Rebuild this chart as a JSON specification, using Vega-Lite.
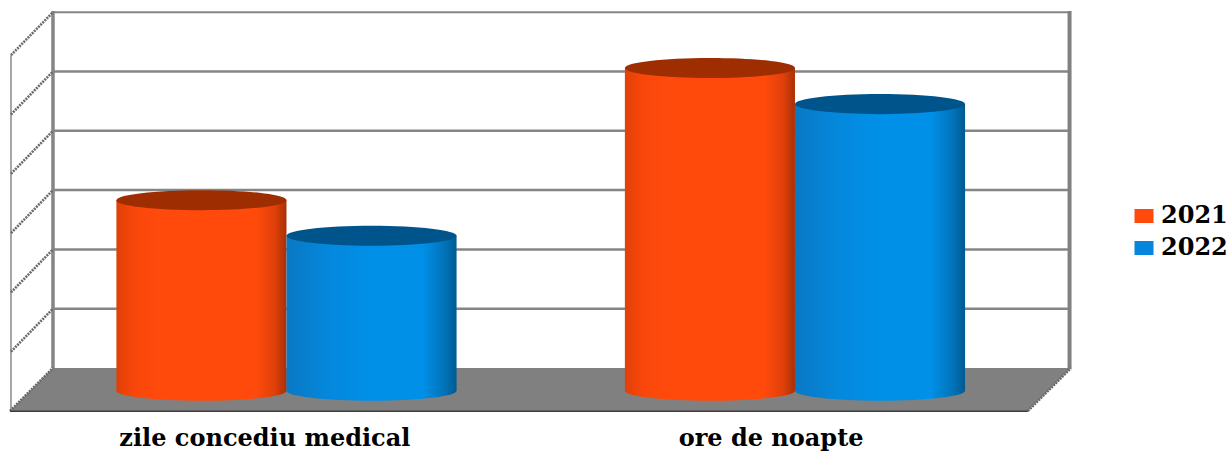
{
"$schema":"https://vega.github.io/schema/vega-lite/v6.json",
"width":1231,"height":453,"padding":0,"autosize":"none","background":"#ffffff",
"config":{"view":{"stroke":null}},
"datasets":{
"cyl":[
{"category":"zile concediu medical","year":"2021","left":0.331,"right":1.0,"center":0.6655,"base":-0.385,"top":2.83},
{"category":"zile concediu medical","year":"2022","left":1.0,"right":1.669,"center":1.3345,"base":-0.385,"top":2.23},
{"category":"ore de noapte","year":"2021","left":2.331,"right":3.0,"center":2.6655,"base":-0.385,"top":5.06},
{"category":"ore de noapte","year":"2022","left":3.0,"right":3.669,"center":3.3345,"base":-0.385,"top":4.45}],
"floor":[
{"x":-0.0875,"back":-0.725,"front":-0.725},
{"x":0.0816,"back":0,"front":-0.725},
{"x":3.916,"back":0,"front":-0.725},
{"x":4.086,"back":0,"front":0}],
"grid":[
{"g":"1","x":0.0816,"y":1},{"g":"1","x":4.074,"y":1},
{"g":"2","x":0.0816,"y":2},{"g":"2","x":4.074,"y":2},
{"g":"3","x":0.0816,"y":3},{"g":"3","x":4.074,"y":3},
{"g":"4","x":0.0816,"y":4},{"g":"4","x":4.074,"y":4},
{"g":"5","x":0.0816,"y":5},{"g":"5","x":4.074,"y":5}],
"slant":[
{"g":"1","x":0.0816,"y":1},{"g":"1","x":-0.0836,"y":0.275},
{"g":"2","x":0.0816,"y":2},{"g":"2","x":-0.0836,"y":1.275},
{"g":"3","x":0.0816,"y":3},{"g":"3","x":-0.0836,"y":2.275},
{"g":"4","x":0.0816,"y":4},{"g":"4","x":-0.0836,"y":3.275},
{"g":"5","x":0.0816,"y":5},{"g":"5","x":-0.0836,"y":4.275},
{"g":"6","x":0.0816,"y":6},{"g":"6","x":-0.0836,"y":5.275},
{"g":"0","x":0.0816,"y":0},{"g":"0","x":-0.0875,"y":-0.725},
{"g":"r","x":4.086,"y":0},{"g":"r","x":3.916,"y":-0.725}],
"labels":[
{"text":"zile concediu medical","x":0.915,"y":-1.2},
{"text":"ore de noapte","x":2.906,"y":-1.2}]
},
"encoding":{
"x":{"type":"quantitative","scale":{"domain":[-0.1268,4.715],"nice":false,"zero":false},"axis":null},
"y":{"type":"quantitative","scale":{"domain":[-1.4334,6.2057],"nice":false,"zero":false},"axis":null}
},
"layer":[
{"data":{"name":"floor"},"mark":{"type":"area","color":"#808080","interpolate":"linear"},
 "encoding":{"x":{"field":"x","type":"quantitative"},"y":{"field":"back","type":"quantitative"},"y2":{"field":"front"}}},
{"data":{"name":"grid"},"mark":{"type":"line","color":"#858585","strokeWidth":2.5},
 "encoding":{"x":{"field":"x","type":"quantitative"},"y":{"field":"y","type":"quantitative"},"detail":{"field":"g"}}},
{"data":{"values":[{"x":0.0816,"y":6},{"x":4.086,"y":6}]},"mark":{"type":"line","color":"#858585","strokeWidth":2},
 "encoding":{"x":{"field":"x","type":"quantitative"},"y":{"field":"y","type":"quantitative"}}},
{"data":{"values":[{"x":0.0816,"y":6.02},{"x":0.0816,"y":0}]},"mark":{"type":"line","color":"#858585","strokeWidth":3.5},
 "encoding":{"x":{"field":"x","type":"quantitative"},"y":{"field":"y","type":"quantitative"}}},
{"data":{"values":[{"x":4.08,"y":6.02},{"x":4.08,"y":0}]},"mark":{"type":"line","color":"#808080","strokeWidth":4},
 "encoding":{"x":{"field":"x","type":"quantitative"},"y":{"field":"y","type":"quantitative"}}},
{"data":{"values":[{"x":-0.0836,"y":5.275},{"x":-0.0836,"y":-0.725}]},"mark":{"type":"line","color":"#8a8a8a","strokeWidth":1.5},
 "encoding":{"x":{"field":"x","type":"quantitative"},"y":{"field":"y","type":"quantitative"}}},
{"data":{"name":"slant"},"mark":{"type":"line","color":"#6a6a6a","strokeWidth":2.6,"strokeDash":[2,1]},
 "encoding":{"x":{"field":"x","type":"quantitative"},"y":{"field":"y","type":"quantitative"},"detail":{"field":"g"}}},
{"data":{"values":[{"x":-0.0875,"y":-0.728},{"x":3.916,"y":-0.728}]},"mark":{"type":"line","color":"#3c3c3c","strokeWidth":1.5},
 "encoding":{"x":{"field":"x","type":"quantitative"},"y":{"field":"y","type":"quantitative"}}},
{"data":{"name":"cyl"},"transform":[{"filter":"datum.year=='2021'"}],"layer":[
 {"mark":{"type":"point","filled":true,"opacity":1,"size":28900,"shape":"M-1,0 A1,0.118 0 1 0 1,0 A1,0.118 0 1 0 -1,0 Z",
  "fill":{"gradient":"linear","x1":0,"y1":0,"x2":1,"y2":0,"stops":[{"offset":0,"color":"#e04008"},{"offset":0.1,"color":"#f8460a"},{"offset":0.25,"color":"#ff4a0c"},{"offset":0.82,"color":"#ff4a0c"},{"offset":0.93,"color":"#e0400a"},{"offset":1,"color":"#a83006"}]}},
  "encoding":{"x":{"field":"center","type":"quantitative"},"y":{"field":"base","type":"quantitative"}}},
 {"mark":{"type":"rect",
  "fill":{"gradient":"linear","x1":0,"y1":0,"x2":1,"y2":0,"stops":[{"offset":0,"color":"#e04008"},{"offset":0.1,"color":"#f8460a"},{"offset":0.25,"color":"#ff4a0c"},{"offset":0.82,"color":"#ff4a0c"},{"offset":0.93,"color":"#e0400a"},{"offset":1,"color":"#a83006"}]}},
  "encoding":{"x":{"field":"left","type":"quantitative"},"x2":{"field":"right"},"y":{"field":"top","type":"quantitative"},"y2":{"field":"base"}}},
 {"mark":{"type":"point","filled":true,"opacity":1,"size":28900,"color":"#9e2e02","shape":"M-1,0 A1,0.118 0 1 0 1,0 A1,0.118 0 1 0 -1,0 Z"},
  "encoding":{"x":{"field":"center","type":"quantitative"},"y":{"field":"top","type":"quantitative"}}}
]},
{"data":{"name":"cyl"},"transform":[{"filter":"datum.year=='2022'"}],"layer":[
 {"mark":{"type":"point","filled":true,"opacity":1,"size":28900,"shape":"M-1,0 A1,0.118 0 1 0 1,0 A1,0.118 0 1 0 -1,0 Z",
  "fill":{"gradient":"linear","x1":0,"y1":0,"x2":1,"y2":0,"stops":[{"offset":0,"color":"#0a78c4"},{"offset":0.25,"color":"#0488dc"},{"offset":0.5,"color":"#0090e8"},{"offset":0.8,"color":"#0090e8"},{"offset":0.93,"color":"#0272b8"},{"offset":1,"color":"#005a90"}]}},
  "encoding":{"x":{"field":"center","type":"quantitative"},"y":{"field":"base","type":"quantitative"}}},
 {"mark":{"type":"rect",
  "fill":{"gradient":"linear","x1":0,"y1":0,"x2":1,"y2":0,"stops":[{"offset":0,"color":"#0a78c4"},{"offset":0.25,"color":"#0488dc"},{"offset":0.5,"color":"#0090e8"},{"offset":0.8,"color":"#0090e8"},{"offset":0.93,"color":"#0272b8"},{"offset":1,"color":"#005a90"}]}},
  "encoding":{"x":{"field":"left","type":"quantitative"},"x2":{"field":"right"},"y":{"field":"top","type":"quantitative"},"y2":{"field":"base"}}},
 {"mark":{"type":"point","filled":true,"opacity":1,"size":28900,"color":"#00548c","shape":"M-1,0 A1,0.118 0 1 0 1,0 A1,0.118 0 1 0 -1,0 Z"},
  "encoding":{"x":{"field":"center","type":"quantitative"},"y":{"field":"top","type":"quantitative"}}}
]},
{"data":{"name":"labels"},"mark":{"type":"text","font":"DejaVu Serif","fontWeight":"bold","fontSize":24,"color":"#000000","align":"center","baseline":"middle"},
 "encoding":{"x":{"field":"x","type":"quantitative"},"y":{"field":"y","type":"quantitative"},"text":{"field":"text"}}},
{"data":{"name":"cyl"},"mark":{"type":"point","filled":true,"size":0,"opacity":0},
 "encoding":{"x":{"field":"center","type":"quantitative"},"y":{"field":"top","type":"quantitative"},
  "color":{"field":"year","type":"nominal","scale":{"domain":["2021","2022"],"range":["#ff4a0c","#0585dc"]},
   "legend":{"title":null,"orient":"none","legendX":1132,"legendY":204,"symbolType":"M-1,-0.74H1V0.74H-1Z","symbolSize":361,"symbolOpacity":1,"symbolStrokeWidth":0,"labelFont":"DejaVu Serif","labelFontWeight":"bold","labelFontSize":24,"labelColor":"#000000","labelOffset":5,"rowPadding":8,"labelLimit":100}}}}
]
}
